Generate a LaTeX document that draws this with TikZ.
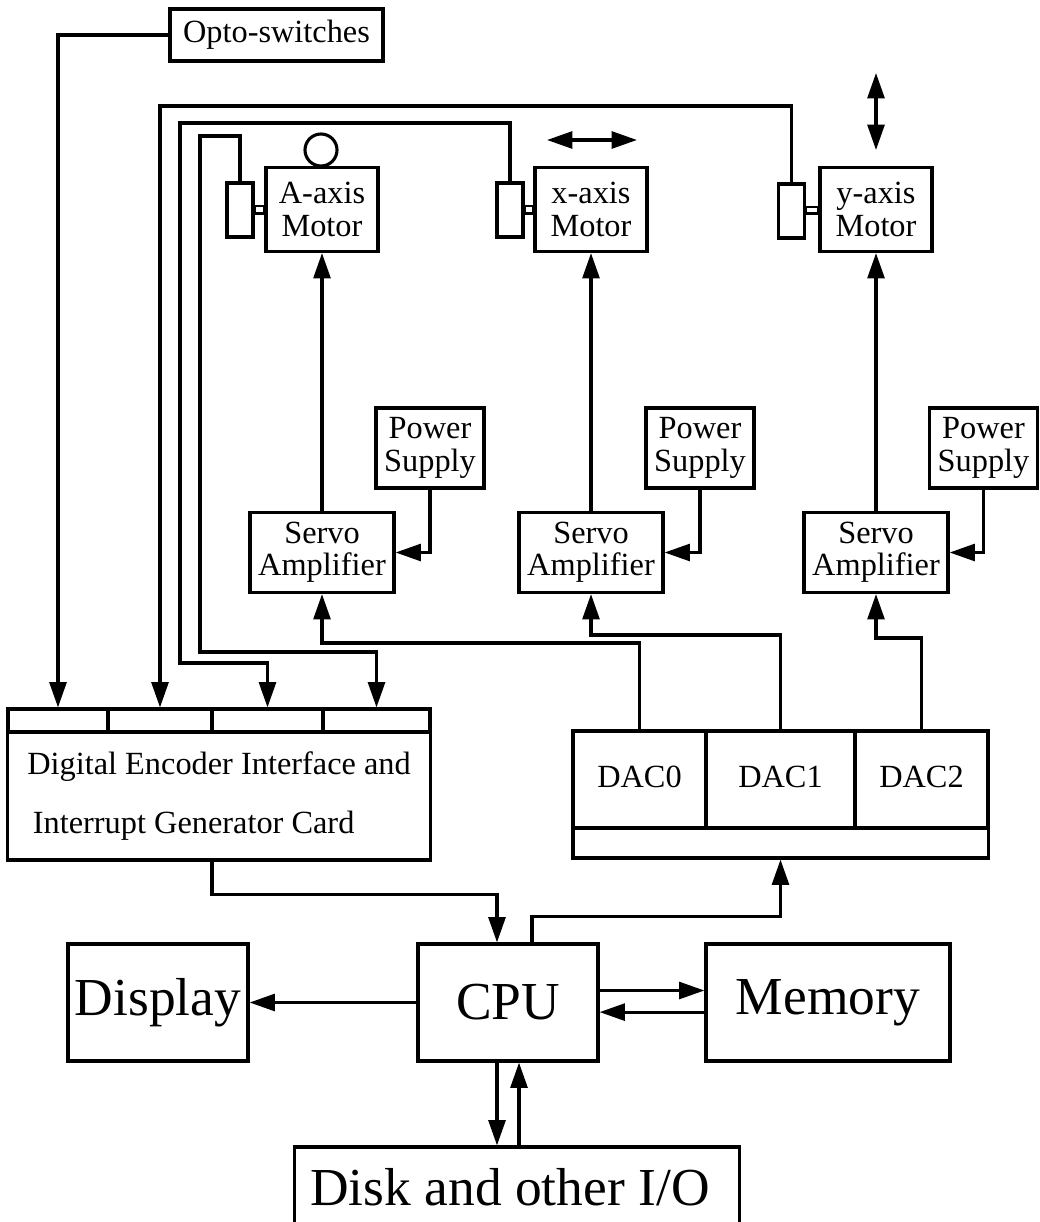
\documentclass[tikz,border=0pt]{standalone}
\usepackage{fontspec}
\setmainfont{Liberation Serif}
\usetikzlibrary{arrows.meta}
\begin{document}
\begin{tikzpicture}[x=0.025cm,y=-0.025cm,line width=2.2pt,>={Triangle[length=18pt,width=12pt]}]
    \tikzset{
        box/.style={draw,inner sep=0pt,align=center,font=\fontsize{23}{23}\selectfont},
        bigbox/.style={draw,inner sep=0pt,minimum height=2.925cm,font=\fontsize{38}{38}\selectfont},
        motor/.style={box,minimum width=2.8cm,minimum height=2.1cm},
        encoder/.style={draw,inner sep=0pt,minimum width=0.65cm,minimum height=1.35cm},
        servo/.style={box,minimum width=3.6cm,minimum height=2cm},
        supply/.style={box,minimum width=2.7cm,minimum height=2cm},
        slot/.style={draw,inner sep=0pt,minimum height=0.575cm},
        dac/.style={box,minimum height=2.425cm,text depth=0.12cm}
    }
    \useasboundingbox (0,0) rectangle (1039,1222);
    \clip (0,0) rectangle (1039,1222);

    \node[box,minimum width=5.325cm,minimum height=1.3cm] (opto) at (276.5,35) {Opto-switches};

    \node[motor] (mA) at (322,209.5) {A-axis\\Motor};
    \node[motor] (mX) at (591,209.5) {x-axis\\Motor};
    \node[motor] (mY) at (876,209.5) {y-axis\\Motor};
    \node[encoder] (eA) at (240,210) {};
    \node[encoder] (eX) at (510,210) {};
    \node[encoder] (eY) at (791.5,211) {};
    \foreach \e/\m in {eA/mA,eX/mX,eY/mY}
        \draw[line width=1.6pt] ([yshift=0.1cm]\e.east) rectangle ([yshift=-0.1cm]\m.west);

    \node[draw,circle,inner sep=0pt,minimum size=0.8cm] (rotA) at (321,150) {};
    \draw[<->] (547,140) -- (637,140);
    \draw[<->] (876,73) -- (876,150);

    \node[servo] (sA) at (322,552.5) {Servo\\Amplifier};
    \node[servo] (sX) at (591,552.5) {Servo\\Amplifier};
    \node[servo] (sY) at (876,552.5) {Servo\\Amplifier};
    \node[supply] (pA) at (430,448) {Power\\Supply};
    \node[supply] (pX) at (700,448) {Power\\Supply};
    \node[supply] (pY) at (983.5,448) {Power\\Supply};

    \draw[->] (sA.north) -- (mA.south);
    \draw[->] (sX.north) -- (mX.south);
    \draw[->] (sY.north) -- (mY.south);
    \draw[->] (pA.south) |- (sA.east);
    \draw[->] (pX.south) |- (sX.east);
    \draw[->] (pY.south) |- (sY.east);

    \node[dac,minimum width=3.325cm] (d0) at (639.5,779.5) {DAC0};
    \node[dac,minimum width=3.725cm] (d1) at (780.5,779.5) {DAC1};
    \node[dac,minimum width=3.325cm] (d2) at (921.5,779.5) {DAC2};
    \node[slot,minimum width=10.375cm,minimum height=0.75cm] (bus) at (780.5,843) {};

    \draw[->] (d0.north) -- (d0.north |- 0,643) -| (sA.south);
    \draw[->] (d1.north) -- (d1.north |- 0,635) -| (sX.south);
    \draw[->] (d2.north) -- (d2.north |- 0,638) -| (sY.south);

    \node[slot,minimum width=2.5cm] (c1) at (58,720.5) {};
    \node[slot,minimum width=2.6cm] (c2) at (160,720.5) {};
    \node[slot,minimum width=2.775cm] (c3) at (267.5,720.5) {};
    \node[slot,minimum width=2.675cm] (c4) at (376.5,720.5) {};
    \node[draw,inner sep=0pt,minimum width=10.55cm,minimum height=3.2cm,align=left,font=\fontsize{23}{42}\selectfont] (card) at (219,796)
        {Digital Encoder Interface and\\\hspace*{4pt}Interrupt Generator Card};

    \draw[->] (opto.west) -| (c1.north);
    \draw[->] (eY.north) |- (160,106) -| (c2.north);
    \draw[->] (eX.north) |- (180,123) -- (180,663) -| (c3.north);
    \draw[->] (eA.north) |- (200,136) -- (200,652) -| (c4.north);

    \node[bigbox,minimum width=4.5cm] (cpu) at (508,1002.5) {CPU};
    \node[bigbox,minimum width=4.5cm] (disp) at (158,1002.5) {Display};
    \node[bigbox,minimum width=6.1cm] (mem) at (828,1002.5) {Memory};
    \node[bigbox,minimum width=11.1cm,minimum height=2cm] (disk) at (517,1187) {Disk and other I/O\hspace*{10pt}};

    \draw[->] ([xshift=-0.175cm]card.south) -- ++(0,33) -| ([xshift=-0.275cm]cpu.north);
    \draw[->] ([xshift=0.6cm]cpu.north) -- ++(0,-26) -| (bus.south);
    \draw[->] (cpu.west) -- (disp.east);
    \draw[->] ([yshift=0.3cm]cpu.east) -- ([yshift=0.3cm]mem.west);
    \draw[->] ([yshift=-0.24cm]mem.west) -- ([yshift=-0.24cm]cpu.east);
    \draw[->] ([xshift=-0.275cm]cpu.south) -- ([xshift=-0.275cm]cpu.south |- disk.north);
    \draw[->] ([xshift=0.275cm]cpu.south |- disk.north) -- ([xshift=0.275cm]cpu.south);
\end{tikzpicture}
\end{document}
